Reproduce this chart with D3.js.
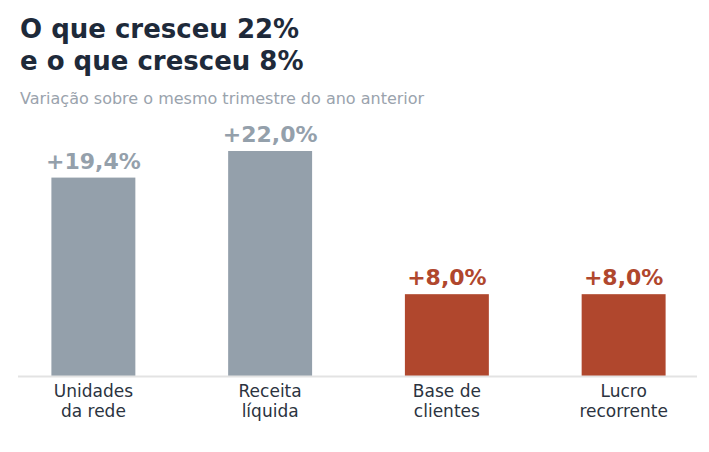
<!DOCTYPE html>
<html><head><meta charset="utf-8">
<script src="https://cdn.jsdelivr.net/npm/d3@7"></script>
<style>body{margin:0;background:#fff}</style></head>
<body><svg id="c" width="709" height="452"></svg>
<script>
const categories = [["Unidades","da rede"],["Receita","líquida"],["Base de","clientes"],["Lucro","recorrente"]];
const values = [19.4, 22.0, 8.0, 8.0];
const labels = ["+19,4%","+22,0%","+8,0%","+8,0%"];
const highlight = [false,false,true,true];
const svg = d3.select("#c");
const font = "DejaVu Sans, sans-serif";
svg.append("text").attr("x",20).attr("y",38).attr("font-family",font).attr("font-size",26).attr("font-weight","bold").attr("fill","#1e2a3a").text("O que cresceu 22%");
svg.append("text").attr("x",20).attr("y",70).attr("font-family",font).attr("font-size",26).attr("font-weight","bold").attr("fill","#1e2a3a").text("e o que cresceu 8%");
svg.append("text").attr("x",20).attr("y",104).attr("font-family",font).attr("font-size",16).attr("fill","#9aa3ad").text("Variação sobre o mesmo trimestre do ano anterior");
const idx = d3.range(values.length);
const x = d3.scaleBand().domain(idx).range([5,712]).paddingInner(0.525).paddingOuter(0.2625);
const y = d3.scaleLinear().domain([0,22]).range([376,151]);
const col = i => highlight[i] ? "#b0472d" : "#94a0ab";
svg.selectAll("rect.b").data(idx).join("rect").attr("x",i=>x(i)).attr("width",x.bandwidth())
  .attr("y",i=>y(values[i])).attr("height",i=>y(0)-y(values[i])).attr("fill",col);
svg.append("line").attr("x1",18).attr("x2",697).attr("y1",376.5).attr("y2",376.5).attr("stroke","#e3e3e3").attr("stroke-width",2);
svg.selectAll("text.v").data(idx).join("text").attr("x",i=>x(i)+x.bandwidth()/2).attr("y",i=>y(values[i])-9)
  .attr("text-anchor","middle").attr("font-family",font).attr("font-size",22).attr("font-weight","bold").attr("fill",col).text(i=>labels[i]);
idx.forEach(i=>{
  categories[i].forEach((l,k)=>{
    svg.append("text").attr("x",x(i)+x.bandwidth()/2).attr("y",397+k*20).attr("text-anchor","middle")
      .attr("font-family",font).attr("font-size",17).attr("fill","#2b3340").text(l);
  });
});
</script></body></html>
